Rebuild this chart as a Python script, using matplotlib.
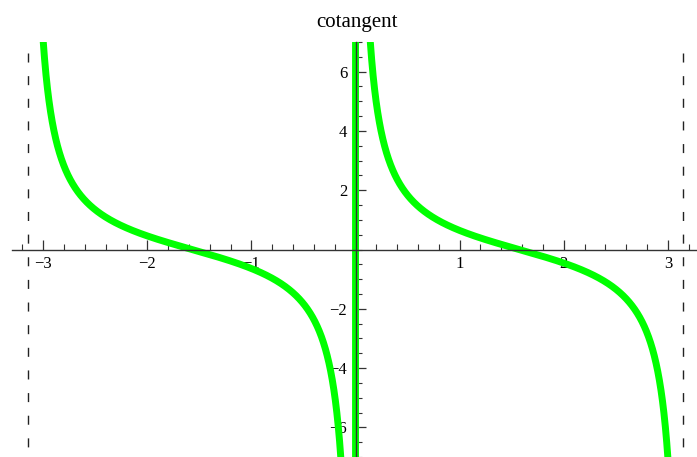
import numpy as np
import matplotlib.pyplot as plt
from matplotlib.ticker import MultipleLocator, FixedLocator

# plotted function: cot(x) on [-pi, pi], clipped to |y| <= 7
x_range = (-np.pi, np.pi)
y_range = (-7, 7)
x_tick_values = [-3, -2, -1, 1, 2, 3]
y_tick_values = [-6, -4, -2, 2, 4, 6]
asymptotes = [-np.pi, np.pi]
title = "cotangent"

# even sample count: x=0 is skipped, so the jump at 0 is drawn as a vertical stroke
x = np.linspace(x_range[0] + 1e-4, x_range[1] - 1e-4, 4000)
y = np.cos(x) / np.sin(x)

fig = plt.figure(figsize=(6.97, 4.57), dpi=100)
ax = fig.add_axes([12 / 697, 0, 685 / 697, 415 / 457])

ax.plot(x, y, color="#00ff00", linewidth=5, solid_capstyle="butt", zorder=2)

# dashed exclusion lines, drawn top to bottom so a dash starts at the top
for a in asymptotes:
    ax.plot([a, a], [6.62, y_range[0]], color="#222222", linewidth=1,
            dashes=(6.5, 9.8), zorder=1)

ax.set_xlim(-3.30, 3.28)
ax.set_ylim(*y_range)

for s in ["top", "right"]:
    ax.spines[s].set_visible(False)
ax.spines["left"].set_position(("data", 0))
ax.spines["bottom"].set_position(("data", 0))
for s in ["left", "bottom"]:
    ax.spines[s].set_linewidth(1)
    ax.spines[s].set_color("#333333")
    ax.spines[s].set_zorder(3)

ax.xaxis.set_major_locator(FixedLocator(x_tick_values))
ax.xaxis.set_minor_locator(MultipleLocator(0.2))
ax.yaxis.set_major_locator(FixedLocator(y_tick_values))
ax.yaxis.set_minor_locator(MultipleLocator(0.5))
ax.set_xticklabels([f"\u2212{abs(v)}" if v < 0 else str(v) for v in x_tick_values])
ax.set_yticklabels([f"\u2212{abs(v)}" if v < 0 else str(v) for v in y_tick_values])

for lab in ax.get_xticklabels() + ax.get_yticklabels():
    lab.set_fontfamily("Liberation Serif")
    lab.set_fontsize(12)

ax.tick_params(which="major", direction="in", length=7, width=0.9, color="#333333", pad=5)
ax.tick_params(which="minor", direction="in", length=4, width=0.8, color="#333333")
ax.tick_params(axis="y", which="major", pad=6)

fig.text(357 / 697, 1 - 27 / 457, title, ha="center", va="baseline",
         family="Liberation Serif", fontsize=15)

fig.savefig("out.png", dpi=100)
